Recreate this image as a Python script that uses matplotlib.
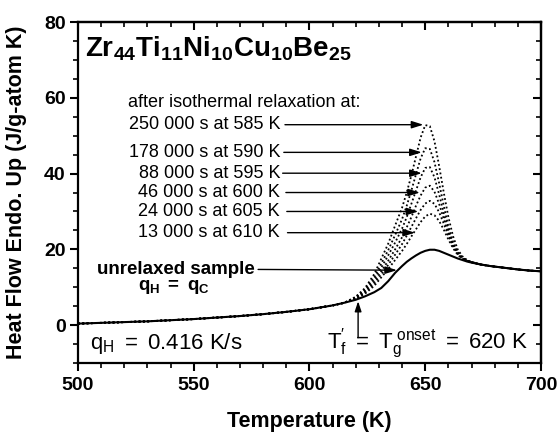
import matplotlib
matplotlib.use('Agg')
import matplotlib.pyplot as plt
from matplotlib.ticker import MultipleLocator

plt.rcParams['font.family'] = ['Liberation Sans', 'DejaVu Sans']
plt.rcParams['mathtext.fontset'] = 'custom'
plt.rcParams['mathtext.rm'] = 'Liberation Sans'
plt.rcParams['mathtext.it'] = 'Liberation Sans:italic'
plt.rcParams['mathtext.bf'] = 'Liberation Sans:bold'

# temperature grid (K)
temp = [500, 510, 520, 530, 540, 550, 560, 570, 580, 590, 600, 605, 610, 615,
        620, 624, 628, 631, 634, 637, 640, 642, 644, 646, 648, 650, 652, 654,
        656, 658, 660, 662, 664, 666, 668, 670, 674, 678, 682, 686, 690, 695, 700]

# unrelaxed sample
unrelaxed = [0.4, 0.6, 0.8, 1.0, 1.3, 1.6, 2.0, 2.4, 2.9, 3.5, 4.2, 4.7, 5.2, 5.9,
             6.7, 7.6, 8.7, 9.8, 11.6, 13.8, 15.6, 16.7, 17.6, 18.4, 19.1, 19.6, 19.9, 19.9,
             19.6, 19.1, 18.6, 18.1, 17.6, 17.2, 16.8, 16.5, 16.0, 15.6, 15.3, 15.0, 14.7, 14.4, 14.2]

# relaxed samples (same grid)
low = [0.4, 0.6, 0.8, 1.0, 1.3, 1.6, 2.0, 2.4, 2.9, 3.5, 4.2, 4.7, 5.2, 5.9]
tail = [16.0, 15.6, 15.3, 15.0, 14.7, 14.4, 14.2]
relax_585 = low + [7.5, 9.8, 13.5, 17.5, 21.5, 26.3, 31.0, 35.0, 39.5, 44.5, 49.5, 52.8, 52.5, 48.5,
                   42.0, 35.0, 28.5, 23.5, 20.0, 18.2, 17.2, 16.7] + tail
relax_590 = low + [7.4, 9.4, 12.7, 16.2, 19.8, 23.8, 28.0, 31.5, 35.5, 39.8, 44.0, 46.7, 46.5, 43.0,
                   37.5, 31.5, 26.0, 22.0, 19.4, 17.9, 17.1, 16.6] + tail
relax_595 = low + [7.2, 9.1, 12.1, 15.2, 18.4, 21.8, 25.5, 28.5, 32.0, 35.5, 39.0, 41.5, 41.7, 39.0,
                   34.5, 29.5, 25.0, 21.5, 19.2, 17.8, 17.0, 16.6] + tail
relax_600 = low + [7.1, 8.8, 11.5, 14.2, 17.0, 20.0, 23.2, 25.8, 28.5, 31.5, 34.2, 36.3, 36.8, 35.2,
                   32.0, 28.0, 24.2, 21.0, 18.9, 17.7, 17.0, 16.6] + tail
relax_605 = low + [7.0, 8.6, 11.0, 13.4, 15.9, 18.6, 21.4, 23.6, 25.9, 28.2, 30.4, 32.1, 32.8, 32.0,
                   29.8, 26.8, 23.5, 20.8, 18.8, 17.6, 17.0, 16.6] + tail
relax_610 = low + [6.9, 8.3, 10.4, 12.6, 14.8, 17.2, 19.6, 21.4, 23.4, 25.3, 27.2, 28.7, 29.4, 29.0,
                   27.5, 25.2, 22.6, 20.3, 18.6, 17.5, 16.9, 16.6] + tail

relaxed = [relax_585, relax_590, relax_595, relax_600, relax_605, relax_610]
relax_labels = ['250 000 s at 585 K', '178 000 s at 590 K', '88 000 s at 595 K',
                '46 000 s at 600 K', '24 000 s at 605 K', '13 000 s at 610 K']
label_y = [52.9, 45.6, 40.1, 35.0, 30.0, 24.4]
arrow_x0 = [589.4, 588.9, 588.4, 589.8, 590.2, 590.5]
arrow_x1 = [649.2, 648.5, 648.5, 647.7, 647.0, 645.6]

fig = plt.figure(figsize=(5.58, 4.37), dpi=100)
ax = fig.add_axes([0.1398, 0.1693, 0.8297, 0.7803])

for ys in relaxed:
    ax.plot(temp, ys, color='black', lw=1.3, linestyle=(0, (1, 1.4)))
ax.plot(temp, unrelaxed, color='black', lw=1.5)

ax.set_xlim(500, 700)
ax.set_ylim(-10, 80)
ax.xaxis.set_major_locator(MultipleLocator(50))
ax.xaxis.set_minor_locator(MultipleLocator(10))
ax.yaxis.set_major_locator(MultipleLocator(20))
ax.yaxis.set_minor_locator(MultipleLocator(5))
ax.tick_params(which='major', direction='out', length=6, width=1.5, labelsize=14, pad=3)
ax.tick_params(which='minor', direction='out', length=3.5, width=1.2)
ax.tick_params(axis='x', which='major', pad=4)
for lab in ax.get_xticklabels() + ax.get_yticklabels():
    lab.set_fontweight('bold')
for sp in ax.spines.values():
    sp.set_linewidth(1.6)

# mirrored ticks on top / right, pointing inward
top = ax.secondary_xaxis('top')
top.xaxis.set_major_locator(MultipleLocator(50))
top.xaxis.set_minor_locator(MultipleLocator(10))
top.tick_params(which='major', direction='in', length=6, width=1.5, labeltop=False)
top.tick_params(which='minor', direction='in', length=3.5, width=1.2)
right = ax.secondary_yaxis('right')
right.yaxis.set_major_locator(MultipleLocator(20))
right.yaxis.set_minor_locator(MultipleLocator(5))
right.tick_params(which='major', direction='in', length=6, width=1.5, labelright=False)
right.tick_params(which='minor', direction='in', length=3.5, width=1.2)
for sec in (top, right):
    for sp in sec.spines.values():
        sp.set_linewidth(1.6)

ax.set_xlabel('Temperature (K)', fontsize=15.5, fontweight='bold', labelpad=12)
ax.set_ylabel('Heat Flow Endo. Up (J/g-atom K)', fontsize=15.5, fontweight='bold', labelpad=12)

ax.text(503.0, 70.8, r'$\mathbf{Zr_{44}Ti_{11}Ni_{10}Cu_{10}Be_{25}}$', fontsize=20,
        ha='left', va='baseline')
ax.text(521.6, 57.5, 'after isothermal relaxation at:', fontsize=13, ha='left', va='baseline')

for lab, y, x0, x1 in zip(relax_labels, label_y, arrow_x0, arrow_x1):
    ax.text(587.3, y, lab, fontsize=13, ha='right', va='center')
    ax.annotate('', xy=(x1, y), xytext=(x0, y),
                arrowprops=dict(arrowstyle='-|>,head_length=0.7,head_width=0.22',
                                color='black', lw=1.0, shrinkA=0, shrinkB=0))

ax.text(576.5, 14.7, 'unrelaxed sample', fontsize=13.5, fontweight='bold', ha='right', va='center')
ax.text(541.5, 10.0, r'$\mathbf{q_H\ =\ q_C}$', fontsize=13.5, ha='center', va='center')
ax.annotate('', xy=(637.8, 14.5), xytext=(577.8, 14.7),
            arrowprops=dict(arrowstyle='-|>,head_length=0.7,head_width=0.22',
                            color='black', lw=1.0, shrinkA=0, shrinkB=0))

ax.text(505.2, -6.3, r'$\mathregular{q_H\ =\ 0.416\ K/s}$', fontsize=16, ha='left', va='baseline')
ax.text(607.6, -6.3, r"$\mathregular{T_f'\ =\ T_g^{\ onset}\ =\ 620\ K}$", fontsize=16,
        ha='left', va='baseline')
ax.annotate('', xy=(621, 6.3), xytext=(621, -3.3),
            arrowprops=dict(arrowstyle='-|>,head_length=0.6,head_width=0.2',
                            color='black', lw=1.0, shrinkA=0, shrinkB=0))

fig.savefig('out.png', dpi=100)
